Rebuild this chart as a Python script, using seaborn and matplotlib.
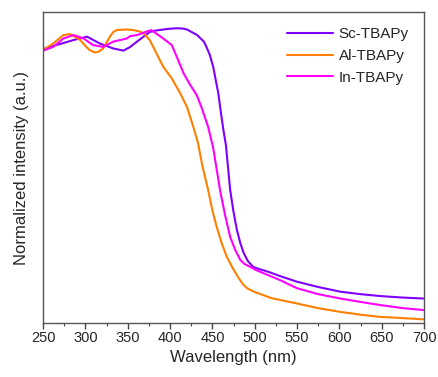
import matplotlib
matplotlib.use("Agg")
import matplotlib.pyplot as plt
from matplotlib.ticker import MultipleLocator
import seaborn as sns
import pandas as pd

sc_wl = [250, 266, 286, 302, 317, 333, 345, 353, 361, 376, 384, 398, 408, 415, 420, 432, 440,
         443, 447, 451, 454, 457, 460, 463, 466, 471, 475, 479, 483, 487, 492, 498, 505, 516,
         530, 550, 575, 601, 625, 648, 675, 699]
sc_int = [0.881, 0.894, 0.910, 0.921, 0.899, 0.883, 0.876, 0.888, 0.905, 0.936, 0.941, 0.946,
          0.948, 0.947, 0.944, 0.926, 0.905, 0.888, 0.862, 0.824, 0.781, 0.739, 0.678, 0.621,
          0.572, 0.428, 0.357, 0.299, 0.257, 0.225, 0.199, 0.181, 0.174, 0.165, 0.151, 0.133,
          0.116, 0.101, 0.093, 0.087, 0.082, 0.079]

al_wl = [250, 262, 274, 282, 288, 294, 300, 305, 311, 316, 321, 329, 333, 337, 349, 357, 365,
         370, 376, 382, 392, 402, 412, 420, 427.5, 433, 438, 445, 450, 455, 461, 467, 474, 481,
         486, 491, 500, 520, 550, 575, 601, 625, 648, 675, 699]
al_int = [0.878, 0.899, 0.926, 0.929, 0.920, 0.910, 0.891, 0.878, 0.870, 0.873, 0.883, 0.921,
          0.936, 0.942, 0.944, 0.942, 0.937, 0.929, 0.910, 0.878, 0.824, 0.787, 0.739, 0.695,
          0.631, 0.579, 0.508, 0.428, 0.363, 0.310, 0.257, 0.213, 0.177, 0.145, 0.125, 0.112,
          0.100, 0.080, 0.063, 0.048, 0.036, 0.027, 0.020, 0.016, 0.012]

in_wl = [250, 262, 274, 286, 298, 309, 321, 333, 349, 353, 361, 372, 378, 392, 402, 408, 416,
         424, 431.5, 437, 445, 451, 459, 465, 471, 477, 483, 488, 494.5, 502, 516, 530, 550,
         575, 601, 625, 648, 675, 699]
in_int = [0.876, 0.888, 0.915, 0.926, 0.915, 0.894, 0.888, 0.905, 0.915, 0.923, 0.926, 0.937,
          0.942, 0.915, 0.894, 0.856, 0.803, 0.765, 0.733, 0.695, 0.631, 0.563, 0.428, 0.347,
          0.277, 0.235, 0.203, 0.190, 0.181, 0.170, 0.154, 0.138, 0.112, 0.093, 0.079, 0.068,
          0.058, 0.048, 0.042]

labels = ["Sc-TBAPy", "Al-TBAPy", "In-TBAPy"]
colors = ["#8000ff", "#ff8000", "#ff00ff"]

df = pd.concat([
    pd.DataFrame({"wl": sc_wl, "I": sc_int, "s": labels[0]}),
    pd.DataFrame({"wl": al_wl, "I": al_int, "s": labels[1]}),
    pd.DataFrame({"wl": in_wl, "I": in_int, "s": labels[2]}),
])

sns.set_style("white")
plt.rcParams["font.family"] = ["Liberation Sans", "DejaVu Sans"]

fig = plt.figure(figsize=(4.39, 3.77), dpi=100)
ax = fig.add_axes([0.098, 0.143, 0.868, 0.825])
sns.lineplot(data=df, x="wl", y="I", hue="s", palette=dict(zip(labels, colors)),
             linewidth=1.5, ax=ax, sort=False, estimator=None)

ax.set_xlim(250, 700)
ax.set_ylim(0, 1)
ax.set_yticks([])
ax.xaxis.set_major_locator(MultipleLocator(50))
ax.xaxis.set_minor_locator(MultipleLocator(25))
ax.tick_params(axis="x", which="major", bottom=True, direction="out", length=4, width=1,
               labelsize=10.5, color="#444444", pad=2)
ax.tick_params(axis="x", which="minor", bottom=True, direction="out", length=2.5, width=0.8,
               color="#444444")
for sp in ax.spines.values():
    sp.set_color("#555555")
    sp.set_linewidth(1.0)
ax.set_xlabel("Wavelength (nm)", fontsize=12, labelpad=3)
ax.set_ylabel("Normalized intensity (a.u.)", fontsize=12, labelpad=10)

leg = ax.legend(loc="upper right", frameon=False, fontsize=11, handlelength=3.0,
                handletextpad=0.4, labelspacing=0.5, borderaxespad=0.6)

fig.savefig("out.png", dpi=100)
